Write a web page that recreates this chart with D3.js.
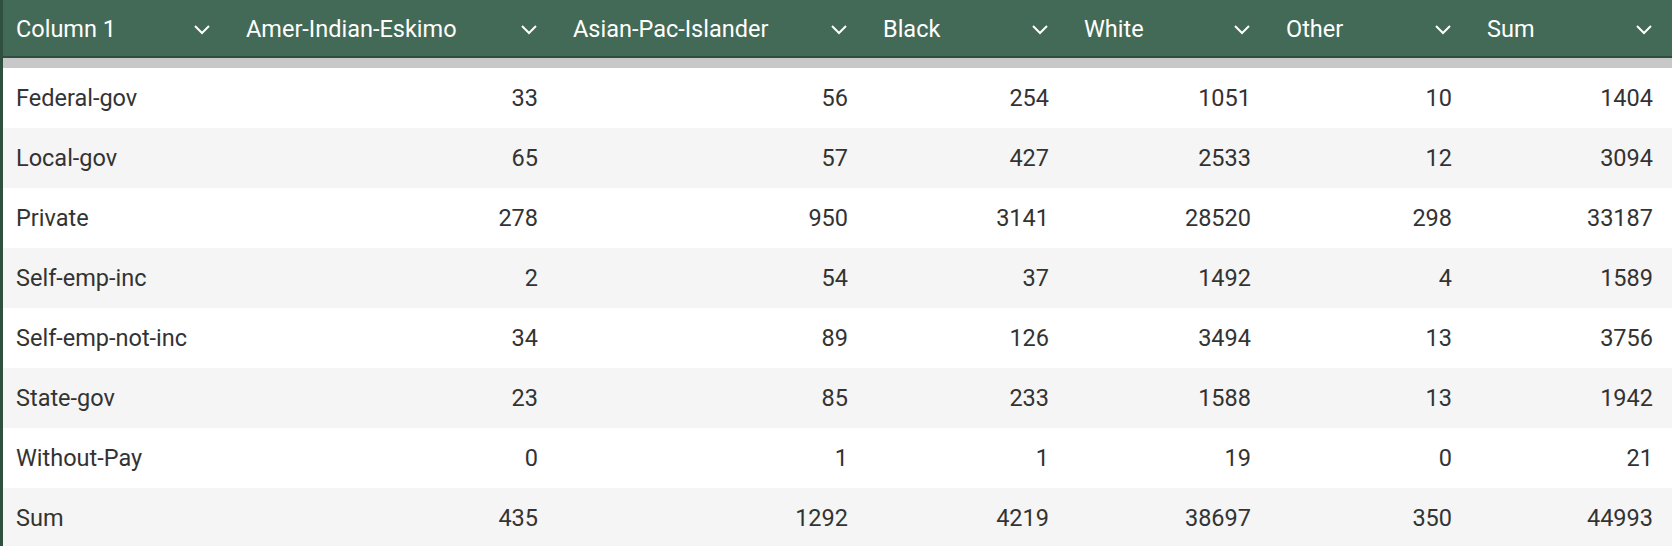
<!DOCTYPE html>
<html><head><meta charset="utf-8">
<script src="https://cdn.jsdelivr.net/npm/d3@7"></script>
<style>body{margin:0;background:#fff;overflow:hidden}svg{display:block;font-family:Roboto,sans-serif}</style>
</head><body><svg id="t" width="1672" height="546"></svg>
<script>
let headers = ['Column 1','Amer-Indian-Eskimo','Asian-Pac-Islander','Black','White','Other','Sum']
let rowLabels = ['Federal-gov','Local-gov','Private','Self-emp-inc','Self-emp-not-inc','State-gov','Without-Pay','Sum']
let amerIndian = [33,65,278,2,34,23,0,435]
let asianPac = [56,57,950,54,89,85,1,1292]
let black = [254,427,3141,37,126,233,1,4219]
let white = [1051,2533,28520,1492,3494,1588,19,38697]
let other = [10,12,298,4,13,13,0,350]
let sums = [1404,3094,33187,1589,3756,1942,21,44993]
let series = [amerIndian, asianPac, black, white, other, sums]

let colEdges = [0,230,557,867,1068,1270,1471,1672]
let svg = d3.select('#t')
let headH = 58, gap = 10
let y = d3.scaleBand().domain(d3.range(rowLabels.length)).range([headH+gap, 546+2])

// header
svg.append('rect').attr('width',1672).attr('height',headH).attr('fill','#436a56')
svg.append('rect').attr('y',headH-2).attr('width',1672).attr('height',2).attr('fill','#2f4f3f')
svg.append('rect').attr('y',headH).attr('width',1672).attr('height',gap).attr('fill','#c8c8c8')
headers.forEach((h,i) => {
    svg.append('text').attr('x',colEdges[i]+16).attr('y',headH/2+8).attr('fill','#fff')
        .attr('font-size',23.5).text(h)
    let cx = colEdges[i+1]-28, cy = headH/2+1
    svg.append('path').attr('d',`M${cx-7},${cy-4}L${cx},${cy+3}L${cx+7},${cy-4}`)
        .attr('fill','none').attr('stroke','#fff').attr('stroke-width',2)
})

// rows
let rows = svg.selectAll('g.row').data(rowLabels).enter().append('g')
    .attr('transform',(d,i) => `translate(0,${y(i)})`)
rows.append('rect').attr('width',1672).attr('height',y.bandwidth())
    .attr('fill',(d,i) => i%2 ? '#f5f5f5' : '#fff')
rows.append('text').attr('x',16).attr('y',y.bandwidth()/2+8).attr('fill','#333')
    .attr('font-size',23.5).text(d => d)
series.forEach((s,j) => {
    rows.append('text').attr('x',colEdges[j+2]-19).attr('y',y.bandwidth()/2+8)
        .attr('text-anchor','end').attr('fill','#333').attr('font-size',23.5)
        .text((d,i) => s[i])
})
svg.append('rect').attr('width',3).attr('height',546).attr('fill','#2f4f3f')
</script></body></html>
